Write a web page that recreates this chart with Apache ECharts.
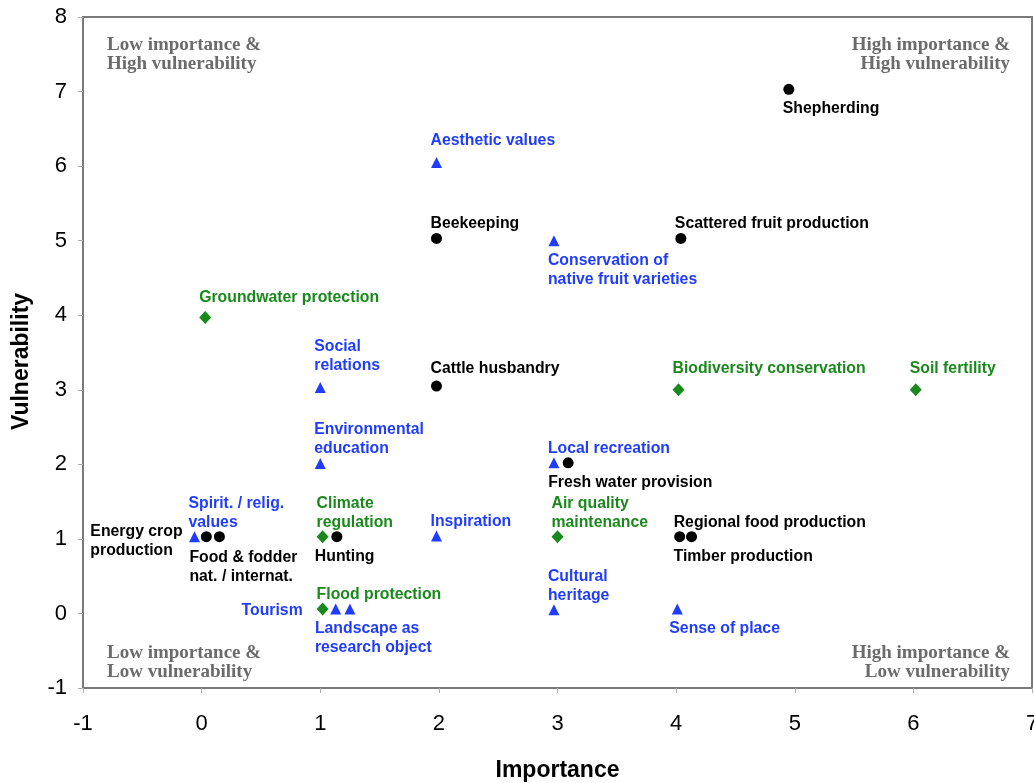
<!DOCTYPE html>
<html>
<head>
<meta charset="utf-8">
<script src="https://cdn.jsdelivr.net/npm/echarts@6/dist/echarts.min.js"></script>
<style>
html,body{margin:0;padding:0;background:#fff;}
#chart{width:1034px;height:783px;}
</style>
</head>
<body>
<div id="chart"></div>
<script>
// ---- Data ----
const provisioningNames = ['Shepherding', 'Beekeeping', 'Scattered fruit production', 'Cattle husbandry',
  'Fresh water provision', 'Energy crop\nproduction', 'Food & fodder\nnat. / internat.', 'Hunting',
  'Regional food production', 'Timber production'];
const provisioningImportance = [4.95, 1.98, 4.04, 1.98, 3.09, 0.04, 0.15, 1.14, 4.03, 4.13];
const provisioningVulnerability = [7.03, 5.03, 5.03, 3.05, 2.02, 1.03, 1.03, 1.03, 1.03, 1.03];

const regulatingNames = ['Groundwater protection', 'Biodiversity conservation', 'Soil fertility',
  'Climate\nregulation', 'Air quality\nmaintenance', 'Flood protection'];
const regulatingImportance = [0.03, 4.02, 6.02, 1.02, 3.0, 1.02];
const regulatingVulnerability = [3.97, 3.0, 3.0, 1.03, 1.03, 0.06];

const culturalNames = ['Aesthetic values', 'Conservation of\nnative fruit varieties', 'Social\nrelations',
  'Environmental\neducation', 'Local recreation', 'Spirit. / relig.\nvalues', 'Inspiration', 'Tourism',
  'Landscape as\nresearch object', 'Cultural\nheritage', 'Sense of place'];
const culturalImportance = [1.98, 2.97, 1.0, 1.0, 2.97, -0.06, 1.98, 1.13, 1.25, 2.97, 4.01];
const culturalVulnerability = [6.05, 5.0, 3.03, 2.01, 2.02, 1.03, 1.04, 0.06, 0.06, 0.05, 0.06];

const xTicks = { min: -1, max: 7, interval: 1 };
const yTicks = { min: -1, max: 8, interval: 1 };

const quadrantTexts = ['Low importance &\nHigh vulnerability', 'High importance &\nHigh vulnerability',
  'Low importance &\nLow vulnerability', 'High importance &\nLow vulnerability'];

// ---- Label placement (style only): [side, dx, dy] ----
const labelPlacement = {
  'Shepherding': ['bottom', -6, 10],
  'Fresh water provision': ['bottom', -20, 10],
  'Food & fodder\nnat. / internat.': ['bottom', -30, 11],
  'Hunting': ['bottom', -22, 10],
  'Timber production': ['bottom', -18, 10],
  'Conservation of\nnative fruit varieties': ['bottom', -6, 10],
  'Landscape as\nresearch object': ['bottom', -35, 10],
  'Sense of place': ['bottom', -8, 10],
  'Energy crop\nproduction': ['leftblock', -116, 4],
  'Tourism': ['leftright', -33, 2],
  'Aesthetic values': ['top', -6, -12],
  'Groundwater protection': ['top', -6, -10],
  'Social\nrelations': ['top', -6, -12],
  'Biodiversity conservation': ['top', -6, -12],
  'Soil fertility': ['top', -6, -12],
  'Cattle husbandry': ['top', -6, -8]
};

const FONT = 'Liberation Sans, Arial, Helvetica, sans-serif';

function labelFor(name, color) {
  const p = labelPlacement[name] || ['top', -6, -5];
  const base = {
    show: true, position: 'inside', formatter: name, color: color,
    fontFamily: FONT, fontWeight: 'bold', fontSize: 15.8, lineHeight: 19, align: 'left',
    offset: [p[1], p[2]]
  };
  if (p[0] === 'top') { base.verticalAlign = 'bottom'; }
  else if (p[0] === 'bottom') { base.verticalAlign = 'top'; }
  else if (p[0] === 'leftblock') { base.verticalAlign = 'middle'; }
  else if (p[0] === 'leftright') { base.verticalAlign = 'middle'; base.align = 'right'; }
  return base;
}

function build(names, xs, ys, color) {
  return names.map((n, i) => ({ name: n, value: [xs[i], ys[i]], label: labelFor(n, color) }));
}

const BLACK = '#000000', BLUE = '#1f3cff', GREEN = '#19891c';

const chart = echarts.init(document.getElementById('chart'), null, { renderer: 'canvas' });

const axisCommon = {
  type: 'value',
  axisLine: { show: true, onZero: false, lineStyle: { color: '#7a7a7a', width: 2 } },
  axisTick: { show: true, inside: false, length: 5, lineStyle: { color: '#b0b0b0', width: 1 } },
  axisLabel: { color: '#000', fontFamily: FONT, fontSize: 22 },
  splitLine: { show: false },
  nameTextStyle: { color: '#000', fontFamily: FONT, fontWeight: 'bold', fontSize: 23 }
};

const QFONT = 'bold 19px "Liberation Serif", "Times New Roman", serif';

const option = {
  backgroundColor: '#fff',
  animation: false,
  grid: { left: 83, right: 2, top: 17, bottom: 95, show: true, borderColor: '#7a7a7a', borderWidth: 2,
          containLabel: false, outerBoundsMode: 'none' },
  xAxis: Object.assign({}, axisCommon, {
    min: xTicks.min, max: xTicks.max, interval: xTicks.interval,
    name: 'Importance', nameLocation: 'middle', nameGap: 71,
    axisLabel: Object.assign({}, axisCommon.axisLabel, { margin: 25 })
  }),
  yAxis: Object.assign({}, axisCommon, {
    min: yTicks.min, max: yTicks.max, interval: yTicks.interval,
    name: 'Vulnerability', nameLocation: 'middle', nameGap: 50, nameRotate: 90,
    nameTextStyle: Object.assign({}, axisCommon.nameTextStyle, { padding: [0, 18, 0, 0] }),
    axisLabel: Object.assign({}, axisCommon.axisLabel, { margin: 16 })
  }),
  graphic: [
    { type: 'text', left: 107, top: 35, style: { text: quadrantTexts[0], fill: '#6b6b6b', font: QFONT, lineHeight: 19.5, textAlign: 'left' } },
    { type: 'text', right: 24, top: 35, style: { text: quadrantTexts[1], fill: '#6b6b6b', font: QFONT, lineHeight: 19.5, textAlign: 'right' } },
    { type: 'text', left: 107, top: 644, style: { text: quadrantTexts[2], fill: '#6b6b6b', font: QFONT, lineHeight: 18.5, textAlign: 'left' } },
    { type: 'text', right: 24, top: 644, style: { text: quadrantTexts[3], fill: '#6b6b6b', font: QFONT, lineHeight: 18.5, textAlign: 'right' } }
  ],
  series: [
    {
      name: 'Provisioning', type: 'scatter', symbol: 'circle', symbolSize: 11,
      itemStyle: { color: BLACK, opacity: 1 },
      data: build(provisioningNames, provisioningImportance, provisioningVulnerability, BLACK)
    },
    {
      name: 'Regulating', type: 'scatter', symbol: 'diamond', symbolSize: [12, 13],
      itemStyle: { color: GREEN, opacity: 1 },
      data: build(regulatingNames, regulatingImportance, regulatingVulnerability, GREEN)
    },
    {
      name: 'Cultural', type: 'scatter', symbol: 'triangle', symbolSize: 11,
      itemStyle: { color: BLUE, opacity: 1 },
      data: build(culturalNames, culturalImportance, culturalVulnerability, BLUE)
    }
  ]
};
chart.setOption(option);
</script>
</body>
</html>
